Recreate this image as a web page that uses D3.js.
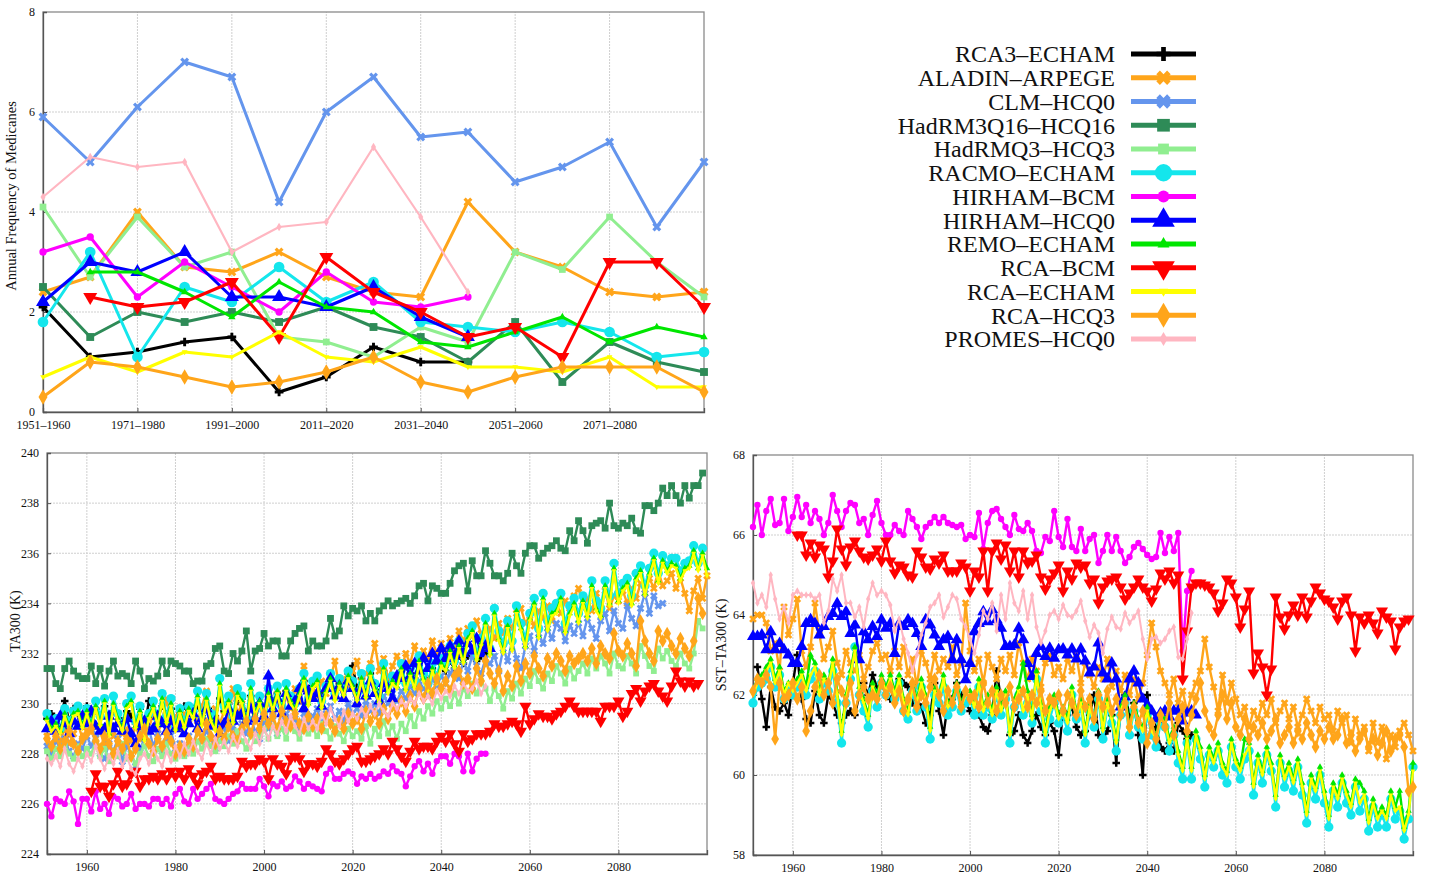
<!DOCTYPE html>
<html>
<head>
<meta charset="utf-8">
<script src="https://cdn.jsdelivr.net/npm/d3@7"></script>
<style>
  body { margin: 0; background: #fff; }
  svg { display: block; }
  text { font-family: "Liberation Serif", "Times New Roman", serif; fill: #111; }
</style>
</head>
<body>
<svg id="chart" width="1429" height="877"></svg>
<script>
// ---------------- Model names (legend / draw order) ----------------
const modelNames = ["RCA3–ECHAM", "ALADIN–ARPEGE", "CLM–HCQ0", "HadRM3Q16–HCQ16", "HadRMQ3–HCQ3",
  "RACMO–ECHAM", "HIRHAM–BCM", "HIRHAM–HCQ0", "REMO–ECHAM", "RCA–BCM", "RCA–ECHAM", "RCA–HCQ3", "PROMES–HCQ0"];

// ---------------- Decadal medicane frequency ----------------
const decades = ["1951–1960", "1961–1970", "1971–1980", "1981–1990", "1991–2000", "2001–2010", "2011–2020",
  "2021–2030", "2031–2040", "2041–2050", "2051–2060", "2061–2070", "2071–2080", "2081–2090", "2091–2100"];
const freqTicks = [0, 2, 4, 6, 8];

const freqRCA3 = [2.1, 1.1, 1.2, 1.4, 1.5, 0.4, 0.7, 1.3, 1.0, 1.0, null, null, null, null, null];
const freqALADIN = [2.4, 2.7, 4.0, 2.9, 2.8, 3.2, 2.7, 2.4, 2.3, 4.2, 3.2, 2.9, 2.4, 2.3, 2.4];
const freqCLM = [5.9, 5.0, 6.1, 7.0, 6.7, 4.2, 6.0, 6.7, 5.5, 5.6, 4.6, 4.9, 5.4, 3.7, 5.0];
const freqHadRM3Q16 = [2.5, 1.5, 2.0, 1.8, 2.0, 1.8, 2.1, 1.7, 1.5, 1.0, 1.8, 0.6, 1.4, 1.0, 0.8];
const freqHadRMQ3 = [4.1, 2.7, 3.9, 2.9, 3.2, 1.5, 1.4, 1.1, 1.7, 1.4, 3.2, 2.85, 3.9, 3.0, 2.3];
const freqRACMO = [1.8, 3.2, 1.1, 2.5, 2.2, 2.9, 2.2, 2.6, 1.8, 1.7, 1.6, 1.8, 1.6, 1.1, 1.2];
const freqHIRHAMBCM = [3.2, 3.5, 2.3, 3.0, 2.5, 2.0, 2.8, 2.2, 2.1, 2.3, null, null, null, null, null];
const freqHIRHAMHCQ0 = [2.2, 3.0, 2.8, 3.2, 2.3, 2.3, 2.1, 2.5, 1.9, 1.5, null, null, null, null, null];
const freqREMO = [null, 2.8, 2.8, 2.4, 1.9, 2.6, 2.1, 2.0, 1.4, 1.3, 1.6, 1.9, 1.4, 1.7, 1.5];
const freqRCABCM = [null, 2.3, 2.1, 2.2, 2.6, 1.5, 3.1, 2.4, 2.0, 1.5, 1.7, 1.1, 3.0, 3.0, 2.1];
const freqRCAECHAM = [0.7, 1.1, 0.8, 1.2, 1.1, 1.6, 1.1, 1.0, 1.3, 0.9, 0.9, 0.8, 1.1, 0.5, 0.5];
const freqRCAHCQ3 = [0.3, 1.0, 0.9, 0.7, 0.5, 0.6, 0.8, 1.1, 0.6, 0.4, 0.7, 0.9, 0.9, 0.9, 0.4];
const freqPROMES = [4.3, 5.1, 4.9, 5.0, 3.2, 3.7, 3.8, 5.3, 3.9, 2.4, null, null, null, null, null];

// ---------------- Annual TA300 (K) ----------------
const yearTicks = [1960, 1980, 2000, 2020, 2040, 2060, 2080];
const taTicks = [224, 226, 228, 230, 232, 234, 236, 238, 240];

const taRCA3 = [
  229.4, 229.6, 229.2, 229.5, 230.1, 229.3, 229.8, 229.6, 229.5, 229.9,
  229.3, 229.8, 229.5, 229.9, 229.1, 229.7, 229.6, 229.3, 229.7, 229.5,
  229.2, 229.8, 229.0, 230.1, 229.7, 229.4, 229.9, 229.6, 229.8, 229.3,
  229.6, 229.9, 229.7, 229.8, 229.9, 229.5, 229.8, 229.7, 229.5, 230.2,
  229.7, 230.0, 229.6, 230.1, 230.2, 229.5, 230.3, 229.9, 230.0, 229.8,
  230.3, 230.1, 230.4, 229.9, 230.5, 230.2, 230.0, 230.5, 230.9, 230.2,
  230.7, 230.9, 230.3, 230.6, 231.0, 230.5, 230.8, 230.7, 231.2, 231.5,
  230.6, 231.0, 230.5, 231.2, 230.8, 230.4, 231.3, 230.8, 231.0, 230.9,
  231.3, 230.9, 231.2, 231.0, 231.5, 231.1, 230.9, 231.4, 231.1, 231.6,
  231.3, 231.7, 231.4, 231.9, 231.6, 231.9, 232.1, 231.7, 231.9, 232.0];
const taALADIN = [
  228.7, 228.3, 228.9, 228.5, 229.0, 228.4, 228.8, 229.2, 228.6, 228.9,
  229.1, 228.6, 228.9, 228.3, 229.0, 228.7, 229.3, 228.8, 229.0, 228.5,
  229.1, 228.6, 229.4, 229.0, 229.6, 228.8, 229.3, 230.2, 229.1, 229.5,
  229.0, 229.6, 229.2, 229.8, 229.3, 229.9, 230.5, 229.4, 229.8, 229.2,
  229.7, 229.4, 230.6, 229.6, 230.0, 229.3, 230.2, 229.7, 230.1, 229.5,
  230.0, 229.7, 230.4, 229.9, 230.3, 229.8, 230.6, 230.1, 231.5, 230.2,
  230.6, 230.3, 230.9, 230.4, 231.0, 231.7, 230.6, 231.0, 230.7, 231.3,
  231.7, 230.9, 231.2, 231.6, 232.4, 231.3, 231.8, 231.0, 231.5, 231.9,
  231.4, 232.0, 231.6, 232.3, 231.7, 232.1, 231.8, 232.5, 232.0, 232.4,
  232.1, 232.6, 232.2, 232.9, 232.5, 233.0, 232.7, 233.3, 232.8, 232.4,
  233.0, 232.6, 233.2, 232.8, 233.4, 233.0, 233.6, 233.8, 233.2, 233.5,
  233.1, 233.7, 233.4, 233.9, 233.3, 234.0, 233.6, 234.1, 233.8, 234.3,
  234.6, 233.9, 234.2, 233.7, 234.4, 234.0, 234.5, 233.8, 234.3, 234.1,
  234.5, 234.0, 234.6, 234.2, 234.8, 234.4, 235.0, 234.6, 235.3, 234.7,
  234.9, 235.2, 234.6, 235.0, 234.4, 233.7, 234.5, 235.0, 234.2, 235.1];
const taCLM = [
  228.3, 228.0, 228.5, 228.2, 228.6, 228.1, 227.9, 228.4, 228.2, 228.7,
  228.3, 228.8, 228.0, 227.8, 228.4, 228.1, 228.6, 227.7, 228.3, 228.0,
  227.5, 228.2, 228.6, 229.0, 228.3, 228.8, 228.1, 228.5, 228.9, 228.2,
  228.4, 228.0, 228.7, 228.3, 229.0, 228.5, 228.9, 228.6, 228.2, 228.9,
  229.0, 228.5, 229.1, 228.7, 229.2, 228.8, 229.4, 228.9, 228.6, 229.3,
  229.0, 229.5, 228.8, 229.3, 229.6, 229.1, 229.4, 228.9, 229.6, 229.2,
  229.5, 229.8, 229.2, 229.6, 229.9, 229.4, 229.7, 229.3, 230.0, 229.6,
  229.8, 229.5, 230.1, 229.7, 230.0, 229.6, 230.3, 230.0, 230.4, 230.1,
  230.5, 230.2, 230.7, 230.4, 230.9, 230.6, 230.3, 231.0, 230.7, 231.1,
  230.8, 231.2, 231.5, 231.0, 231.7, 231.3, 231.9, 231.5, 231.2, 231.8,
  231.6, 231.9, 231.3, 232.2, 231.7, 232.5, 231.8, 231.4, 232.3, 232.7,
  232.1, 232.8, 232.4, 233.0, 232.6, 233.2, 233.0, 232.5, 233.1, 232.8,
  233.2, 232.7, 233.4, 233.0, 232.6, 233.3, 233.6, 232.9, 233.7, 233.2,
  233.0, 233.9, 233.4, 233.1, 233.8, 234.4, 233.6, 234.3, 233.9, 234.0];
const taHadRM3Q16 = [
  231.4, 231.4, 230.8, 230.6, 231.4, 231.7, 231.3, 231.1, 231.0, 231.0,
  231.5, 230.8, 231.4, 230.7, 231.3, 231.7, 231.1, 231.2, 231.1, 230.8,
  231.7, 231.3, 230.6, 231.0, 230.9, 231.1, 231.7, 231.2, 231.7, 231.6,
  231.5, 231.3, 231.3, 230.8, 230.9, 230.9, 231.5, 231.6, 232.2, 232.3,
  231.3, 231.2, 232.0, 231.7, 232.1, 232.9, 231.3, 232.1, 232.2, 232.8,
  232.3, 232.5, 232.5, 231.9, 231.9, 232.5, 232.8, 233.0, 233.1, 232.1,
  232.5, 232.3, 232.3, 232.5, 233.4, 232.7, 232.9, 233.9, 233.5, 233.8,
  233.7, 233.9, 233.3, 233.6, 233.3, 233.7, 233.9, 234.1, 233.9, 234.0,
  234.1, 234.2, 234.0, 234.3, 234.7, 234.8, 234.1, 234.7, 234.6, 234.4,
  234.4, 234.8, 235.3, 235.5, 235.6, 234.5, 235.7, 235.1, 235.1, 236.1,
  235.6, 235.1, 235.1, 234.9, 235.2, 236.0, 235.5, 235.2, 236.0, 236.3,
  236.3, 235.8, 236.0, 236.2, 236.3, 236.5, 236.2, 236.1, 236.9, 236.5,
  237.3, 236.9, 236.4, 237.1, 237.2, 237.3, 237.0, 238.0, 237.1, 237.0,
  237.2, 237.1, 237.4, 236.9, 236.8, 237.9, 237.9, 237.7, 238.0, 238.6,
  238.3, 238.7, 238.3, 238.0, 238.7, 238.2, 238.7, 238.7, 239.2];
const taHadRMQ3 = [
  228.1, 227.8, 228.2, 227.9, 228.4, 228.0, 227.8, 228.3, 227.9, 228.2,
  228.0, 228.5, 227.9, 228.2, 227.7, 228.1, 227.9, 228.4, 227.8, 228.0,
  227.6, 228.0, 228.3, 227.9, 227.7, 228.2, 227.9, 228.4, 228.0, 227.8,
  228.1, 227.9, 228.3, 228.0, 228.5, 228.2, 228.6, 228.3, 228.1, 228.5,
  228.3, 228.7, 228.4, 228.9, 228.5, 228.2, 228.8, 228.5, 228.7, 229.0,
  228.6, 229.1, 228.7, 229.0, 228.6, 229.2, 228.9, 228.6, 229.1, 228.8,
  229.0, 228.7, 229.2, 228.9, 228.6, 229.1, 228.8, 228.5, 229.0, 228.7,
  228.9, 228.6, 229.1, 228.4, 229.0, 228.7, 229.3, 228.8, 229.1, 228.6,
  229.2, 228.9, 229.5, 229.1, 229.7, 229.4, 229.9, 229.6, 230.1, 229.8,
  230.2, 229.9, 230.4, 230.0, 230.6, 230.3, 230.8, 230.4, 230.9, 230.6,
  230.1, 230.6, 230.3, 229.8, 230.5, 230.2, 230.8, 230.4, 231.0, 230.7,
  231.3, 230.9, 230.6, 231.2, 230.9, 231.5, 231.2, 230.8, 231.4, 231.0,
  231.3, 231.6, 231.2, 231.8, 231.4, 231.9, 231.6, 231.2, 232.0, 231.5,
  231.4, 231.9, 231.6, 231.2, 232.3, 231.9, 231.5, 231.3, 232.2, 231.8,
  232.1, 231.7, 231.5, 232.0, 231.6, 231.4, 232.0, 233.3, 233.0];
const taRACMO = [
  229.6, 229.2, 229.4, 229.0, 229.8, 229.3, 229.7, 229.9, 229.4, 229.8,
  229.2, 230.1, 229.5, 230.2, 229.0, 230.3, 229.6, 229.2, 230.0, 230.3,
  229.3, 229.9, 228.8, 229.6, 230.1, 229.4, 230.4, 229.5, 230.2, 229.1,
  229.8, 229.3, 229.9, 229.7, 230.5, 229.4, 230.4, 229.6, 229.2, 231.0,
  229.9, 230.3, 229.5, 230.6, 230.3, 229.4, 230.8, 229.8, 230.3, 229.7,
  230.6, 230.0, 230.7, 229.9, 230.8, 230.3, 230.0, 230.6, 231.2, 230.2,
  230.9, 231.1, 230.1, 230.7, 231.2, 230.4, 231.0, 230.6, 231.3, 230.9,
  230.4, 231.2, 230.5, 231.4, 230.8, 230.3, 231.6, 230.7, 231.1, 230.9,
  231.6, 230.8, 231.4, 230.9, 231.9, 231.2, 230.8, 231.6, 231.1, 231.8,
  231.6, 232.3, 231.7, 232.5, 232.0, 232.8, 233.1, 232.0, 232.6, 233.4,
  232.2, 233.8, 232.9, 232.4, 233.3, 232.5, 233.9, 233.2, 232.6, 233.6,
  234.2, 233.0, 234.4, 233.3, 233.8, 234.0, 234.4, 233.2, 233.9, 234.2,
  233.6, 234.3, 233.8, 234.9, 234.1, 233.8, 234.9, 234.3, 235.6, 234.4,
  234.8, 235.0, 234.3, 235.2, 235.5, 234.7, 235.4, 236.0, 235.2, 235.9,
  235.5, 235.8, 235.8, 235.3, 235.6, 235.7, 236.3, 235.6, 236.2];
const taHIRHAMBCM = [
  226.0, 225.5, 226.2, 226.1, 226.0, 226.5, 226.1, 225.2, 226.2, 226.2,
  225.7, 226.5, 225.8, 226.0, 225.6, 226.3, 226.2, 225.9, 226.0, 226.4,
  225.8, 226.0, 226.0, 225.9, 226.2, 226.2, 226.0, 226.2, 225.9, 226.4,
  226.6, 226.1, 226.0, 226.6, 226.2, 226.4, 226.6, 226.8, 226.2, 226.1,
  226.0, 226.2, 226.4, 226.5, 226.8, 226.6, 226.6, 226.6, 227.0, 226.7,
  226.3, 226.8, 226.7, 226.9, 226.6, 226.7, 227.1, 226.9, 226.6, 226.8,
  226.7, 226.6, 226.5, 227.2, 227.4, 227.0, 227.0, 227.2, 227.3, 227.2,
  226.8, 227.1, 227.0, 227.2, 227.0, 227.1, 227.3, 227.2, 227.5, 227.3,
  227.2, 226.7, 227.1, 227.5, 227.7, 227.3, 227.6, 227.2, 227.7, 227.9,
  227.9, 227.6, 228.0, 227.9, 227.3, 228.0, 227.3, 227.8, 228.0, 228.0];
const taHIRHAMHCQ0 = [
  229.0, 229.3, 228.9, 229.5, 229.2, 228.8, 229.3, 229.1, 229.5, 229.2,
  229.7, 229.1, 228.9, 229.0, 229.5, 229.0, 229.2, 228.9, 229.4, 228.8,
  228.4, 229.1, 229.3, 228.9, 229.0, 229.5, 229.2, 228.9, 229.3, 229.0,
  229.1, 228.8, 229.2, 229.6, 229.0, 229.4, 229.8, 229.1, 229.3, 228.8,
  229.2, 229.8, 229.3, 229.5, 229.6, 229.3, 229.8, 229.4, 230.0, 229.5,
  231.1, 229.8, 230.2, 229.6, 230.4, 229.9, 230.1, 230.6, 229.8, 230.5,
  230.2, 230.4, 229.9, 230.6, 231.0, 230.3, 230.7, 230.2, 230.9, 230.6,
  230.0, 230.6, 230.3, 230.9, 230.4, 230.1, 230.8, 230.6, 230.2, 231.1,
  231.0, 231.5, 231.1, 231.6, 231.3, 231.8, 231.4, 232.0, 231.7, 232.2,
  231.8, 232.3, 231.9, 232.5, 232.0, 232.4, 232.1, 232.6, 232.0, 232.3,
  232.2];
const taREMO = [
  229.4, 229.0, 229.2, 228.9, 229.6, 229.1, 229.6, 229.7, 229.1, 229.7,
  229.1, 229.9, 229.2, 230.1, 228.8, 230.0, 229.4, 229.0, 229.9, 230.1,
  229.1, 229.7, 228.6, 229.5, 229.9, 229.2, 230.2, 229.3, 230.0, 229.0,
  229.7, 229.1, 229.8, 229.5, 230.3, 229.2, 230.2, 229.4, 229.0, 230.8,
  229.7, 230.1, 229.3, 230.4, 230.1, 229.2, 230.6, 229.6, 230.1, 229.5,
  230.4, 229.8, 230.5, 229.7, 230.6, 230.1, 229.8, 230.4, 231.0, 230.0,
  230.7, 230.9, 229.9, 230.5, 231.0, 230.2, 230.8, 230.4, 231.1, 230.7,
  230.2, 231.0, 230.3, 231.2, 230.6, 230.1, 231.4, 230.5, 230.9, 230.7,
  231.4, 230.6, 231.2, 230.7, 231.7, 231.0, 230.6, 231.4, 230.9, 231.6,
  231.4, 232.1, 231.5, 232.3, 231.7, 232.6, 232.9, 231.8, 232.4, 233.2,
  232.0, 233.6, 232.6, 232.1, 233.1, 232.2, 233.7, 233.0, 232.3, 233.4,
  234.0, 232.7, 234.2, 233.0, 233.6, 233.7, 234.2, 232.9, 233.6, 234.0,
  233.3, 234.1, 233.5, 234.7, 233.8, 233.5, 234.7, 234.0, 235.4, 234.1,
  234.6, 234.8, 234.0, 235.0, 235.3, 234.4, 235.2, 235.8, 234.9, 235.7,
  235.3, 235.6, 235.5, 235.0, 235.4, 235.5, 236.1, 235.4, 236.0, 235.4];
const taRCABCM = [
  226.5, 227.2, 226.7, 226.7, 226.3, 226.8, 227.3, 226.7, 226.8, 227.2,
  227.3, 226.7, 227.0, 227.0, 227.1, 227.0, 227.2, 227.0, 227.3, 227.1,
  227.3, 227.0, 227.4, 227.1, 226.8, 227.2, 227.3, 227.5, 227.0, 227.1,
  227.0, 227.0, 227.0, 227.1, 227.7, 227.5, 227.6, 227.6, 227.8, 227.7,
  227.0, 227.8, 227.6, 227.5, 227.2, 227.8, 227.9, 227.8, 227.3, 227.6,
  227.6, 227.5, 227.7, 228.2, 228.0, 227.7, 227.6, 227.8, 228.0, 228.2,
  228.3, 227.7, 227.7, 227.8, 227.9, 228.0, 228.2, 228.0, 228.5, 228.2,
  227.9, 227.7, 228.1, 228.5, 228.2, 228.3, 228.3, 228.2, 228.5, 228.7,
  228.5, 228.8, 228.4, 228.1, 228.8, 228.5, 228.6, 228.8, 228.8, 228.8,
  228.9, 229.2, 229.1, 229.1, 229.2, 229.3, 229.2, 228.9, 229.9, 229.2,
  229.4, 229.6, 229.5, 229.5, 229.4, 229.6, 229.7, 229.9, 230.1, 229.9,
  229.7, 229.7, 229.7, 229.7, 229.7, 229.3, 229.9, 229.9, 229.9, 230.1,
  229.5, 229.7, 230.4, 230.6, 230.1, 230.5, 230.7, 230.8, 230.5, 230.3,
  230.1, 230.7, 231.3, 230.9, 230.7, 230.9, 230.7, 230.8];
const taRCAECHAM = [
  229.3, 228.9, 229.1, 228.8, 229.5, 229.0, 229.5, 229.6, 229.0, 229.6,
  229.0, 229.8, 229.1, 230.0, 228.7, 229.9, 229.3, 228.9, 229.8, 230.0,
  229.0, 229.6, 228.5, 229.4, 229.8, 229.1, 230.1, 229.2, 229.9, 228.9,
  229.6, 229.0, 229.7, 229.4, 230.2, 229.1, 230.1, 229.3, 228.9, 230.7,
  229.6, 230.0, 229.2, 230.3, 230.0, 229.1, 230.5, 229.5, 230.0, 229.4,
  230.3, 229.7, 230.4, 229.6, 230.5, 230.0, 229.7, 230.3, 230.9, 229.9,
  230.6, 230.8, 229.8, 230.4, 230.9, 230.1, 230.7, 230.3, 231.0, 230.6,
  230.1, 230.9, 230.2, 231.1, 230.5, 230.0, 231.3, 230.4, 230.8, 230.6,
  231.3, 230.5, 231.1, 230.6, 231.6, 230.9, 230.5, 231.3, 230.8, 231.5,
  231.3, 232.0, 231.4, 232.2, 231.6, 232.5, 232.8, 231.7, 232.3, 233.1,
  231.9, 233.5, 232.5, 232.0, 233.0, 232.1, 233.6, 232.9, 232.2, 233.3,
  233.9, 232.6, 234.1, 232.9, 233.5, 233.6, 234.1, 232.8, 233.5, 233.9,
  233.2, 234.0, 233.4, 234.6, 233.7, 233.4, 234.6, 233.9, 235.3, 234.0,
  234.5, 234.7, 233.9, 234.9, 235.2, 234.3, 235.1, 235.7, 234.8, 235.6,
  235.2, 235.5, 235.4, 234.9, 235.3, 235.4, 236.0, 235.3, 235.9, 235.1];
const taRCAHCQ3 = [
  228.6, 228.3, 228.7, 228.2, 228.5, 228.9, 228.4, 228.1, 228.6, 228.8,
  229.0, 228.5, 228.2, 228.7, 228.4, 228.0, 228.5, 228.2, 228.6, 227.9,
  228.2, 228.7, 229.0, 228.4, 228.1, 228.6, 228.3, 228.8, 228.5, 228.0,
  228.3, 228.1, 228.6, 228.3, 228.9, 228.6, 229.2, 228.7, 228.4, 228.9,
  228.6, 229.1, 228.7, 228.5, 229.0, 229.3, 228.8, 229.4, 229.0, 229.6,
  229.2, 229.5, 229.0, 229.7, 229.3, 229.1, 229.6, 229.2, 229.0, 229.5,
  229.1, 229.4, 229.0, 229.5, 229.2, 228.9, 229.3, 229.0, 229.6, 229.2,
  229.4, 229.0, 229.7, 229.3, 229.6, 229.2, 229.8, 229.4, 229.9, 229.6,
  230.1, 229.7, 230.3, 229.9, 230.6, 230.2, 230.8, 230.4, 231.0, 230.6,
  230.9, 230.5, 231.1, 231.3, 230.8, 231.0, 230.6, 231.4, 230.9, 231.7,
  231.2, 230.8, 231.3, 230.5, 231.1, 230.7, 231.5, 230.9, 231.6, 231.2,
  231.9, 231.4, 231.1, 231.8, 231.5, 232.0, 231.7, 231.3, 231.9, 231.6,
  231.8, 232.0, 231.7, 232.2, 231.6, 232.3, 232.0, 231.8, 232.8, 232.1,
  231.9, 232.4, 232.0, 231.5, 233.3, 232.5, 232.0, 231.7, 232.9, 232.5,
  232.8, 232.3, 232.0, 232.6, 232.2, 231.9, 232.5, 234.2, 233.6];
const taPROMES = [
  227.8, 227.6, 227.9, 227.5, 228.2, 227.6, 227.3, 227.8, 227.5, 228.0,
  227.7, 228.3, 227.8, 227.4, 227.9, 227.6, 228.1, 227.5, 227.9, 227.4,
  227.2, 227.8, 228.0, 227.6, 228.2, 227.8, 227.5, 228.1, 227.7, 228.3,
  227.9, 228.4, 228.0, 228.5, 228.1, 227.8, 228.4, 228.0, 228.6, 228.2,
  228.5, 228.1, 228.7, 228.3, 228.9, 228.5, 228.2, 228.8, 228.4, 229.0,
  228.6, 229.1, 228.8, 229.3, 228.9, 229.5, 229.1, 228.8, 229.4, 229.0,
  229.3, 229.0, 229.6, 229.2, 229.8, 229.4, 229.1, 229.7, 229.3, 229.6,
  229.4, 229.8, 229.5, 229.9, 229.6, 230.0, 229.7, 229.5, 230.0, 229.8,
  230.1, 229.9, 230.2, 230.0, 230.4, 230.1, 230.3, 230.0, 230.5, 230.2,
  230.5, 230.3, 230.7, 230.4, 230.8, 230.5, 230.6, 230.9, 230.4, 230.7];
const taStartYears = [1951, 1951, 1951, 1951, 1951, 1951, 1951, 1951, 1951, 1961, 1951, 1951, 1951];

// ---------------- Annual SST–TA300 (K) ----------------
const sstTicks = [58, 60, 62, 64, 66, 68];

const sstRCA3 = [
  62.7, 61.9, 61.2, 62.2, 61.7, 61.6, 61.8, 61.5, 62.3, 63.0,
  61.9, 61.4, 61.3, 62.1, 61.5, 61.3, 62.0, 61.8, 61.5, 61.3,
  61.5, 61.6, 61.5, 62.0, 62.3, 62.0, 62.5, 62.2, 62.3, 62.0,
  61.9, 62.0, 62.4, 62.3, 62.2, 61.8, 61.9, 61.7, 61.3, 61.5,
  62.3, 61.6, 61.0, 61.8, 61.9, 62.3, 62.0, 61.8, 61.6, 61.5,
  61.5, 61.2, 61.1, 61.5, 62.6, 61.9, 62.0, 61.0, 61.1, 61.5,
  61.0, 60.8, 61.1, 61.5, 61.2, 61.0, 61.3, 61.1, 60.5,
  61.6, 61.5, 61.7, 61.2, 61.0, 61.1, 61.5, 62.0, 61.0, 60.9,
  61.1, 61.5, 60.3, 61.7, 62.0, 61.5, 61.8, 61.0, 60.0, 62.0,
  61.0, 61.2, 60.7, 60.6, 60.8, 60.6, 61.3, 61.1, 60.9, 61.0];
const sstALADIN = [
  63.9, 64.0, 64.0, 63.8, 63.1, 63.3, 62.6, 64.2, 63.5, 63.9,
  64.4, 63.1, 62.7, 63.2, 64.3, 63.5, 62.9, 63.2, 63.6, 62.8,
  62.5, 63.1, 62.8, 62.6, 63.0, 62.4, 62.7, 63.1, 63.3, 62.9,
  63.0, 62.6, 63.1, 62.7, 63.2, 62.5, 62.9, 62.2, 63.1, 62.8,
  62.4, 63.0, 62.6, 62.9, 62.7, 63.2, 62.5, 62.8, 64.3, 63.1,
  62.6, 62.9, 62.3, 63.0, 62.7, 62.4, 62.9, 62.6, 63.0, 62.5,
  63.3, 62.8, 62.4, 62.9, 62.6, 62.2, 62.8, 63.0, 62.5, 62.7,
  62.4, 62.9, 62.6, 63.0, 62.3, 62.8, 62.5, 62.2, 62.7, 62.4,
  62.9, 62.2, 62.6, 62.1, 62.5, 62.0, 62.4, 61.9, 62.3, 63.0,
  63.8, 63.2, 62.6, 62.3, 62.0, 62.4, 61.8, 62.1, 61.6, 62.0,
  62.3, 62.6, 63.4, 62.7, 62.2, 61.6, 62.5, 61.8, 62.3, 61.9,
  61.5, 61.7, 61.2, 61.6, 61.4, 61.8, 61.5, 61.9, 61.3, 61.6,
  61.8, 61.4, 61.7, 61.2, 61.5, 61.9, 61.6, 61.3, 61.7, 61.4,
  61.5, 61.1, 61.6, 61.3, 61.5, 60.8, 61.4, 61.0, 61.2, 60.6,
  61.3, 60.8, 61.2, 60.4, 61.0, 60.7, 61.1, 61.3, 61.0, 60.6];
const sstRACMO = [
  61.8, 62.2, 62.3, 62.4, 62.7, 62.2, 62.5, 61.9, 62.1, 62.0,
  62.2, 62.3, 62.0, 62.4, 62.6, 61.9, 62.3, 62.1, 62.6, 61.8,
  60.8, 61.8, 62.4, 63.2, 62.0, 61.6, 61.2, 62.1, 61.7, 62.3,
  62.0, 62.2, 61.9, 62.3, 61.6, 61.4, 62.1, 61.6, 62.2, 61.7,
  60.9, 62.0, 61.8, 62.2, 61.5, 61.7, 62.1, 61.6, 61.8, 61.9,
  61.5, 62.2, 61.5, 61.7, 61.4, 62.0, 61.5, 61.9, 60.8, 61.7,
  62.0, 61.5, 61.8, 61.3, 62.4, 61.6, 60.8, 61.4, 61.8, 61.3,
  61.5, 61.1, 62.0, 61.4, 61.7, 60.8, 61.6, 61.2, 61.9, 60.9,
  61.7, 61.3, 60.6, 61.5, 61.8, 61.0, 61.6, 61.2, 60.9, 61.5,
  61.0, 60.7, 61.3, 61.2, 60.6, 61.0, 60.3, 59.9, 60.8, 59.9,
  60.9, 60.4, 59.7, 60.5, 60.2, 60.6, 60.0, 59.8, 60.7, 60.2,
  59.9, 60.4, 60.6, 59.5, 60.3, 59.8, 60.5, 60.1, 59.2, 60.3,
  59.7, 60.1, 59.6, 60.2, 59.5, 58.8, 59.8, 59.4, 60.0, 59.3,
  58.7, 59.6, 59.2, 59.8, 59.3, 59.0, 59.7, 59.1, 59.4, 58.6,
  59.2, 58.7, 59.0, 58.7, 59.4, 58.9, 59.1, 58.4, 58.9, 60.2];
const sstHIRHAMBCM = [
  66.2, 66.75, 66.0, 66.6, 66.9, 66.25, 66.3, 66.9, 66.1, 66.45,
  66.95, 66.45, 66.75, 66.3, 66.6, 66.4, 66.0, 66.3, 67.0, 66.6,
  66.2, 66.6, 66.8, 66.75, 66.3, 66.4, 66.0, 66.5, 66.85, 66.3,
  66.0, 66.0, 66.25, 66.1, 66.0, 66.6, 66.4, 66.2, 65.9, 66.2,
  66.3, 66.45, 66.3, 66.45, 66.3, 66.25, 66.2, 66.25, 65.9, 66.0,
  65.95, 66.55, 65.65, 66.3, 66.6, 66.65, 66.4, 66.2, 66.0, 66.5,
  66.15, 66.1, 66.3, 66.1, 65.6, 65.55, 65.95, 65.85, 66.6, 65.95,
  65.7, 66.4, 65.7, 65.6, 66.15, 65.6, 65.9, 66.0, 65.3, 65.6,
  66.0, 65.6, 65.95, 65.6, 65.3, 65.45, 65.7, 65.8, 65.65, 65.5,
  65.4, 65.45, 66.05, 65.55, 65.95, 65.6, 66.05, 63.1, 64.6, 65.1];
const sstHIRHAMHCQ0 = [
  63.46, 63.46, 63.5, 63.13, 63.58, 63.13, 63.29, 63.13, 63.0, 62.79,
  62.79, 63.21, 63.79, 63.88, 63.79, 63.5, 63.71, 63.96, 64.04, 64.29,
  63.96, 64.08, 63.54, 63.75, 62.88, 63.58, 63.38, 63.71, 63.46, 63.88,
  63.67, 63.79, 63.04, 63.79, 63.71, 63.88, 63.79, 63.54, 63.21, 63.88,
  63.75, 63.5, 63.21, 63.38, 63.46, 62.88, 63.38, 62.88, 62.38, 62.79,
  63.58, 63.79, 64.08, 63.83, 64.13, 63.88, 63.67, 63.21, 63.21, 63.25,
  63.67, 63.38, 62.79, 62.46, 63.04, 63.21, 62.96, 63.17, 62.92, 63.13,
  63.15, 63.0, 63.15, 62.9, 63.15, 62.85, 62.55, 62.7, 63.3, 62.55,
  62.4, 62.8, 62.4, 61.7, 61.95, 62.4, 62.6, 62.3, 61.9, 61.75,
  61.6, 61.4, 61.55, 61.6, 61.45, 61.6, 61.6, 61.35, 61.55, 61.6,
  61.5];
const sstREMO = [
  62.1, 62.4, 62.5, 62.7, 62.9, 62.4, 62.7, 62.1, 62.3, 62.2,
  62.4, 62.6, 62.2, 63.0, 62.8, 62.1, 62.5, 62.3, 62.9, 62.1,
  61.1, 62.0, 62.6, 63.2, 62.2, 61.9, 61.5, 62.3, 62.0, 62.5,
  62.2, 62.5, 62.1, 62.5, 61.9, 61.6, 62.3, 61.9, 62.4, 62.0,
  61.2, 62.2, 62.0, 62.5, 61.8, 61.9, 62.3, 61.8, 62.1, 62.1,
  61.8, 62.4, 61.7, 62.0, 61.6, 62.2, 61.7, 62.1, 61.1, 61.9,
  62.2, 62.8, 62.1, 61.5, 62.6, 61.8, 61.1, 61.7, 62.0, 61.5,
  61.7, 61.4, 62.2, 61.6, 61.9, 61.1, 61.8, 61.4, 62.1, 61.2,
  61.9, 61.5, 60.9, 61.7, 62.0, 61.2, 61.8, 61.4, 61.2, 61.7,
  61.2, 61.0, 61.5, 61.4, 60.9, 61.2, 60.6, 60.2, 61.0, 60.2,
  61.1, 60.7, 60.0, 60.7, 60.4, 60.8, 60.3, 60.1, 60.9, 60.4,
  60.2, 60.9, 60.8, 59.8, 60.5, 60.1, 60.7, 60.3, 59.5, 60.5,
  60.0, 60.3, 59.9, 60.4, 59.8, 59.1, 60.0, 59.7, 60.2, 59.6,
  59.0, 59.8, 59.5, 60.0, 59.6, 59.3, 59.9, 59.8, 59.6, 58.9,
  59.4, 59.0, 59.2, 59.0, 59.6, 59.2, 59.6, 58.7, 59.1, 60.3];
const sstRCABCM = [
  66.0, 66.0, 65.5, 65.8, 65.45, 65.75, 65.65, 64.95, 65.35, 66.15,
  65.65, 65.25, 65.7, 65.85, 65.6, 65.45, 65.4, 65.5, 65.65, 65.35,
  65.85, 65.35, 65.05, 65.25, 65.2, 65.0, 64.95, 65.6, 65.45, 65.2,
  65.15, 65.4, 65.3, 65.5, 65.1, 65.1, 65.1, 65.3, 65.2, 64.6,
  65.1, 64.95, 65.6, 64.6, 65.6, 65.8, 65.4, 65.75, 65.1, 65.6,
  64.95, 65.6, 65.3, 65.35, 65.5, 64.95, 64.65, 64.9, 65.05, 65.25,
  64.6, 65.1, 64.9, 65.3, 65.2, 65.25, 64.8, 64.9, 64.3, 64.7,
  64.85, 64.9, 64.95, 64.7, 64.4, 64.55, 64.7, 64.9, 64.7, 64.6,
  64.35, 64.65, 65.05, 64.9, 65.1, 64.8, 65.0, 62.4, 63.6, 64.7,
  64.8, 64.8, 64.75, 64.7, 64.55, 64.1, 64.3, 64.9, 64.8, 64.45,
  63.7, 64.15, 64.6, 62.55, 63.05, 62.7, 62.0, 62.65, 64.45, 63.95,
  63.65, 64.0, 64.25, 64.0, 64.45, 63.95, 64.35, 64.7, 64.55, 64.4,
  64.35, 64.2, 63.9, 64.35, 64.45, 64.0, 63.1, 63.95, 63.8, 64.0,
  63.8, 63.55, 64.1, 63.95, 63.85, 63.15, 63.7, 63.85, 63.9];
const sstRCAECHAM = [
  62.0, 62.3, 62.4, 62.6, 62.8, 62.3, 62.6, 62.0, 62.3, 62.1,
  62.3, 62.5, 62.1, 62.5, 62.7, 62.0, 62.4, 62.2, 62.8, 62.0,
  61.0, 61.9, 62.5, 63.1, 62.1, 61.8, 61.4, 62.2, 61.9, 62.4,
  62.1, 62.4, 62.0, 62.4, 61.8, 61.5, 62.2, 61.8, 62.3, 61.9,
  61.1, 62.1, 61.9, 62.4, 61.7, 61.8, 62.2, 61.7, 62.0, 62.0,
  61.7, 62.3, 61.6, 61.9, 61.5, 62.1, 61.6, 62.0, 61.0, 61.8,
  62.1, 61.6, 62.0, 61.4, 62.5, 61.7, 61.0, 61.6, 61.9, 61.4,
  61.6, 61.3, 62.1, 61.5, 61.8, 61.0, 61.7, 61.3, 62.0, 61.1,
  61.8, 61.4, 60.8, 61.6, 61.9, 61.1, 61.7, 61.3, 61.1, 61.6,
  61.1, 60.9, 61.4, 61.3, 60.8, 61.1, 60.5, 60.1, 60.9, 60.1,
  61.0, 60.6, 59.9, 60.6, 60.3, 60.7, 60.2, 60.0, 60.8, 60.3,
  60.1, 60.5, 60.7, 59.7, 60.4, 60.0, 60.6, 60.2, 59.4, 60.4,
  59.9, 60.2, 59.8, 60.3, 59.7, 59.0, 59.9, 59.6, 60.1, 59.5,
  58.9, 59.7, 59.4, 59.9, 59.5, 59.2, 59.8, 59.3, 59.5, 58.8,
  59.3, 58.9, 59.1, 58.9, 59.5, 59.1, 59.2, 58.6, 59.0, 60.1];
const sstRCAHCQ3 = [
  62.1, 62.4, 62.3, 62.5, 62.2, 60.9, 62.3, 61.9, 62.0, 62.3,
  61.9, 62.2, 61.1, 61.6, 62.2, 62.5, 62.0, 62.3, 61.8, 62.4,
  62.1, 61.8, 62.3, 61.6, 62.0, 62.2, 61.9, 62.0, 61.9, 62.3,
  62.0, 62.2, 61.8, 62.1, 61.6, 61.9, 62.3, 61.7, 62.0, 61.8,
  62.2, 62.4, 62.0, 61.6, 62.1, 61.8, 62.2, 61.7, 62.1, 61.9,
  62.0, 61.7, 62.3, 61.8, 62.1, 61.6, 62.0, 61.8, 62.2, 61.7,
  61.9, 62.1, 61.7, 62.0, 61.8, 62.1, 61.6, 61.9, 61.8, 62.0,
  61.6, 62.0, 61.8, 61.5, 62.1, 61.7, 61.9, 61.4, 62.0, 61.7,
  62.1, 61.6, 61.9, 61.5, 61.8, 61.2, 61.7, 61.3, 61.6, 60.8,
  61.3, 60.9, 61.5, 61.2, 61.8, 61.0, 61.4, 61.7, 61.1, 61.5,
  61.9, 62.3, 61.6, 61.2, 61.0, 61.5, 62.0, 61.4, 61.8, 61.2,
  61.0, 61.4, 60.9, 61.2, 61.0, 61.3, 60.9, 61.1, 61.4, 60.8,
  61.0, 61.2, 60.8, 61.1, 60.9, 61.3, 61.0, 60.7, 61.1, 60.9,
  61.2, 60.9, 61.0, 61.4, 60.8, 61.0, 60.6, 60.9, 61.1, 60.7,
  60.9, 60.5, 60.8, 61.1, 60.6, 60.9, 61.0, 60.7, 59.6, 59.7];
const sstPROMES = [
  64.8, 64.3, 64.5, 64.2, 65.0, 64.4, 63.9, 64.2, 63.8, 64.5,
  64.6, 64.5, 64.5, 64.5, 64.4, 64.5, 63.8, 64.1, 64.9, 64.6,
  65.0, 64.3, 64.3, 63.95, 64.2, 63.7, 64.4, 64.8, 64.5, 64.6,
  64.5, 64.25, 63.6, 63.9, 63.4, 63.05, 62.6, 63.0, 63.5, 63.8,
  64.2, 64.3, 64.5, 63.95, 64.2, 64.5, 64.4, 63.9, 63.7, 63.4,
  63.05, 63.5, 64.1, 63.9, 64.3, 63.6, 64.5, 63.9, 64.8, 64.3,
  64.1, 64.6, 63.9, 64.5, 63.7, 63.3, 63.6, 64.0, 64.1, 63.9,
  64.25, 64.0, 63.95, 64.1, 64.35, 63.85, 63.45, 63.75, 63.55, 63.05,
  63.65, 63.95, 63.7, 63.65, 64.05, 63.8, 63.95, 64.1, 63.4, 62.9,
  63.4, 63.45, 63.3, 63.4, 63.6, 63.7, 62.95, 62.9, 63.4, 64.05];
const sstStartYears = [1952, 1951, null, null, null, 1951, 1951, 1951, 1951, 1961, 1951, 1951, 1951];

// ---------------- Series look (colour, marker) ----------------
const styles = [
  { color: "#000000", sym: "plus", area: 42 },
  { color: "#ffa51a", sym: "x", area: 50 },
  { color: "#6495ed", sym: "x", area: 50 },
  { color: "#2e8b57", sym: "square", area: 62 },
  { color: "#90ee90", sym: "square", area: 45 },
  { color: "#14e6ec", sym: "circle", area: 90 },
  { color: "#ff00ff", sym: "circle", area: 42 },
  { color: "#0000ff", sym: "tri", area: 85 },
  { color: "#00e600", sym: "tri", area: 24 },
  { color: "#ff0000", sym: "tridown", area: 85 },
  { color: "#ffff00", sym: "tridown", area: 14 },
  { color: "#ffa51a", sym: "diamond", area: 70 },
  { color: "#ffb6c1", sym: "diamond", area: 22 }
];

const freqSeries = [freqRCA3, freqALADIN, freqCLM, freqHadRM3Q16, freqHadRMQ3, freqRACMO, freqHIRHAMBCM,
  freqHIRHAMHCQ0, freqREMO, freqRCABCM, freqRCAECHAM, freqRCAHCQ3, freqPROMES];
const taSeries = [taRCA3, taALADIN, taCLM, taHadRM3Q16, taHadRMQ3, taRACMO, taHIRHAMBCM,
  taHIRHAMHCQ0, taREMO, taRCABCM, taRCAECHAM, taRCAHCQ3, taPROMES];
const sstSeries = [sstRCA3, sstALADIN, null, null, null, sstRACMO, sstHIRHAMBCM,
  sstHIRHAMHCQ0, sstREMO, sstRCABCM, sstRCAECHAM, sstRCAHCQ3, sstPROMES];

// ---------------- Drawing helpers ----------------
const svg = d3.select("#chart");
const symTypes = {
  plus: d3.symbolCross, x: d3.symbolCross, square: d3.symbolSquare, circle: d3.symbolCircle,
  tri: d3.symbolTriangle, tridown: d3.symbolTriangle, diamond: d3.symbolDiamond
};
const symRot = { x: 45, tridown: 180 };

function drawMarkers(g, pts, style, factor) {
  const path = d3.symbol().type(symTypes[style.sym]).size(style.area * factor)();
  const rot = symRot[style.sym] || 0;
  g.selectAll(null).data(pts).join("path")
    .attr("d", path)
    .attr("transform", d => `translate(${d[0]},${d[1]}) rotate(${rot})`)
    .attr("fill", style.color);
}

function drawFrame(g, x, y, xTicks, yTicks, xLabel, gridX) {
  const [x0, x1] = x.range();
  const [y0, y1] = y.range();
  const grid = g.append("g").attr("stroke", "#cfcfcf").attr("stroke-width", 1).attr("stroke-dasharray", "2,1");
  yTicks.slice(1, -1).forEach(t => grid.append("line").attr("x1", x0).attr("x2", x1).attr("y1", y(t)).attr("y2", y(t)));
  gridX.forEach(t => grid.append("line").attr("x1", x(t)).attr("x2", x(t)).attr("y1", y0).attr("y2", y1));

  g.append("rect").attr("x", x0).attr("y", y1).attr("width", x1 - x0).attr("height", y0 - y1)
    .attr("fill", "none").attr("stroke", "#8a8a8a").attr("stroke-width", 1.3);

  // left axis
  const ya = g.append("g").attr("transform", `translate(${x0},0)`)
    .call(d3.axisLeft(y).tickValues(yTicks).tickSize(-4).tickPadding(8));
  ya.select(".domain").attr("stroke", "#555").attr("stroke-width", 1.3);
  ya.selectAll(".tick line").attr("stroke", "#555");
  ya.selectAll("text").attr("font-size", 12).attr("font-family", "Liberation Serif");

  // bottom axis
  const xa = g.append("g").attr("transform", `translate(0,${y0})`)
    .call(d3.axisBottom(x).tickValues(xTicks).tickFormat(xLabel).tickSize(-4).tickPadding(8));
  xa.select(".domain").attr("stroke", "#555").attr("stroke-width", 1.3);
  xa.selectAll(".tick line").attr("stroke", "#555");
  xa.selectAll("text").attr("font-size", 12).attr("font-family", "Liberation Serif");
}

function drawSeries(g, pts, style, lw, mFactor) {
  const line = d3.line();
  g.append("path").attr("d", line(pts)).attr("fill", "none")
    .attr("stroke", style.color).attr("stroke-width", lw).attr("stroke-linejoin", "round");
  drawMarkers(g, pts, style, mFactor);
}

// ---------------- Panel 1: decadal frequency ----------------
{
  const x = d3.scaleLinear().domain([0, decades.length - 1]).range([43, 704]);
  const y = d3.scaleLinear().domain([0, 8]).range([412, 12]);
  const g = svg.append("g");
  const labelled = d3.range(0, 13, 2);
  drawFrame(g, x, y, labelled, freqTicks, i => decades[i], labelled.slice(1));
  g.append("text").attr("transform", "translate(16,196) rotate(-90)")
    .attr("text-anchor", "middle").attr("font-size", 14.5).text("Annual Frequency of Medicanes");

  freqSeries.forEach((vals, k) => {
    const st = styles[k];
    const pts = vals.map((v, i) => v == null ? null : [x(i), y(v)]).filter(p => p);
    drawSeries(g, pts, st, k === 12 ? 2.2 : 3, 1);
  });
}

// ---------------- Legend ----------------
{
  const g = svg.append("g");
  const ly = d3.scaleLinear().domain([0, modelNames.length - 1]).range([54, 339]);
  modelNames.forEach((name, k) => {
    const st = styles[k];
    const yy = ly(k);
    g.append("text").attr("x", 1115).attr("y", yy).attr("dy", "0.35em")
      .attr("text-anchor", "end").attr("font-size", 24).text(name);
    g.append("line").attr("x1", 1131).attr("x2", 1196).attr("y1", yy).attr("y2", yy)
      .attr("stroke", st.color).attr("stroke-width", 5);
    drawMarkers(g, [[1163.5, yy]], st, 2.6);
  });
}

// ---------------- Panel 2: TA300 ----------------
{
  const x = d3.scaleLinear().domain([1951, 2100]).range([47, 707]);
  const y = d3.scaleLinear().domain([224, 240]).range([854, 453]);
  const g = svg.append("g");
  drawFrame(g, x, y, yearTicks, taTicks, d3.format("d"), yearTicks);
  g.append("text").attr("transform", "translate(20,621) rotate(-90)")
    .attr("text-anchor", "middle").attr("font-size", 14).text("TA300 (K)");

  taSeries.forEach((vals, k) => {
    const start = taStartYears[k];
    const pts = vals.map((v, i) => [x(start + i), y(v)]);
    drawSeries(g, pts, styles[k], k === 12 ? 2 : 2.4, 0.75);
  });
}

// ---------------- Panel 3: SST–TA300 ----------------
{
  const x = d3.scaleLinear().domain([1951, 2100]).range([753, 1413]);
  const y = d3.scaleLinear().domain([58, 68]).range([855, 455]);
  const g = svg.append("g");
  drawFrame(g, x, y, yearTicks, sstTicks, d3.format("d"), yearTicks);
  g.append("text").attr("transform", "translate(726,645) rotate(-90)")
    .attr("text-anchor", "middle").attr("font-size", 14).text("SST–TA300 (K)");

  sstSeries.forEach((vals, k) => {
    if (!vals) return;
    const start = sstStartYears[k];
    const pts = vals.map((v, i) => [x(start + i), y(v)]);
    drawSeries(g, pts, styles[k], k === 12 ? 2 : 2.4, 0.75);
  });
}
</script>
</body>
</html>
